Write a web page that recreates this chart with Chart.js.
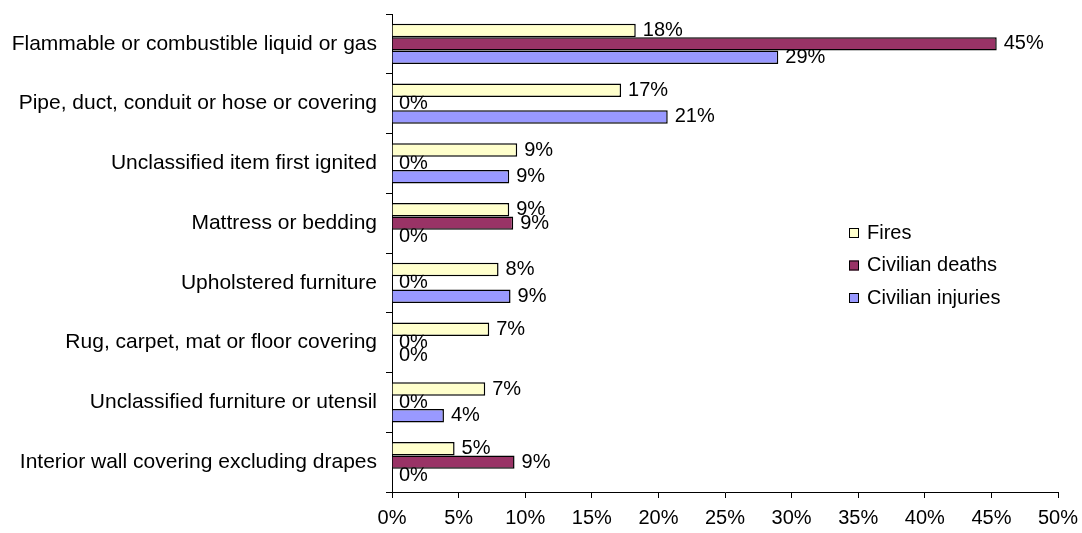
<!DOCTYPE html>
<html>
<head>
<meta charset="utf-8">
<script src="https://cdn.jsdelivr.net/npm/chart.js@4.4.1/dist/chart.umd.min.js"></script>
<style>
  html, body { margin: 0; padding: 0; background: #fff; }
  #wrap { width: 1082px; height: 533px; }
</style>
</head>
<body>
<div id="wrap"><canvas id="chart"></canvas></div>
<script>
const categories = [
    'Flammable or combustible liquid or gas',
    'Pipe, duct, conduit or hose or covering',
    'Unclassified item first ignited',
    'Mattress or bedding',
    'Upholstered furniture',
    'Rug, carpet, mat or floor covering',
    'Unclassified furniture or utensil',
    'Interior wall covering excluding drapes'
];
const fires = [18.3, 17.2, 9.4, 8.8, 8.0, 7.3, 7.0, 4.7];
const deaths = [45.4, 0, 0, 9.1, 0, 0, 0, 9.2];
const injuries = [29.0, 20.7, 8.8, 0, 8.9, 0, 3.9, 0];
const xTicks = [0, 5, 10, 15, 20, 25, 30, 35, 40, 45, 50];

const FONT = 'Arial, "Liberation Sans", sans-serif';

// value labels, drawn before the bars so later bars cover them (like Excel)
const valueLabels = {
    id: 'valueLabels',
    beforeDatasetsDraw(chart) {
        const ctx = chart.ctx;
        ctx.save();
        ctx.font = '20px ' + FONT;
        ctx.fillStyle = '#000';
        ctx.textAlign = 'left';
        ctx.textBaseline = 'middle';
        chart.data.datasets.forEach((ds, i) => {
            chart.getDatasetMeta(i).data.forEach((bar, j) => {
                ctx.fillText(Math.round(ds.data[j]) + '%', bar.x + 7, bar.y);
            });
        });
        ctx.restore();
    }
};

// legend drawn inside the plot area
const innerLegend = {
    id: 'innerLegend',
    afterDraw(chart) {
        const ctx = chart.ctx;
        ctx.save();
        ctx.font = '20px ' + FONT;
        ctx.textBaseline = 'middle';
        chart.data.datasets.forEach((ds, i) => {
            const y = 233 + i * 32.5;
            ctx.fillStyle = ds.backgroundColor;
            ctx.fillRect(849, y - 5, 10, 10);
            ctx.strokeStyle = '#000';
            ctx.lineWidth = 1;
            ctx.strokeRect(849.5, y - 4.5, 9, 9);
            ctx.fillStyle = '#000';
            ctx.fillText(ds.label, 867, y);
        });
        ctx.restore();
    }
};

new Chart(document.getElementById('chart'), {
    type: 'bar',
    data: {
        labels: categories,
        datasets: [
            { label: 'Fires', data: fires, backgroundColor: '#FFFFCC' },
            { label: 'Civilian deaths', data: deaths, backgroundColor: '#993366' },
            { label: 'Civilian injuries', data: injuries, backgroundColor: '#9999FF' }
        ]
    },
    options: {
        indexAxis: 'y',
        responsive: true,
        maintainAspectRatio: false,
        animation: false,
        datasets: {
            bar: {
                borderColor: '#000',
                borderWidth: 1.5,
                categoryPercentage: 0.67,
                barPercentage: 1.0
            }
        },
        layout: { padding: { left: 0, right: 24, top: 14, bottom: 0 } },
        plugins: {
            legend: { display: false },
            tooltip: { enabled: false }
        },
        scales: {
            x: {
                min: 0,
                max: 50,
                afterBuildTicks(scale) {
                    scale.ticks = xTicks.map(v => ({ value: v }));
                },
                afterFit(scale) {
                    scale.height = 41;
                    scale.paddingLeft = 0;
                    scale.paddingRight = 0;
                },
                border: { color: '#000', width: 1 },
                grid: { drawOnChartArea: false, tickLength: 6, color: '#000' },
                ticks: {
                    color: '#000',
                    padding: 8,
                    maxRotation: 0,
                    font: { family: FONT, size: 20 },
                    callback: v => v + '%'
                }
            },
            y: {
                afterFit(scale) {
                    scale.width = 392;
                    scale.paddingTop = 0;
                    scale.paddingBottom = 0;
                },
                border: { color: '#000', width: 1 },
                grid: { drawOnChartArea: false, tickLength: 6, color: '#000', offset: true },
                ticks: {
                    color: '#000',
                    padding: 9,
                    font: { family: FONT, size: 21 }
                }
            }
        }
    },
    plugins: [valueLabels, innerLegend]
});
</script>
</body>
</html>
